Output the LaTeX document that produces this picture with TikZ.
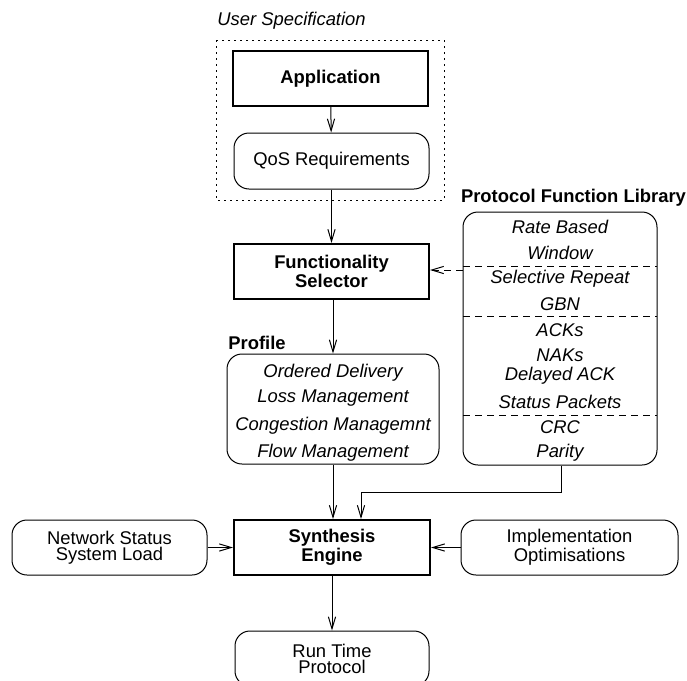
\documentclass[tikz,border=0pt]{standalone}
\usepackage{fontspec}
\setmainfont{Liberation Sans}
\usetikzlibrary{arrows.meta}

\tikzset{
  box/.style={draw, line width=1pt, minimum height=27.5pt, inner sep=0pt,
    align=center, font=\fontsize{9.2}{8}\selectfont\bfseries},
  rbox/.style={draw, line width=0.5pt, rounded corners=7.5pt, minimum height=27.5pt,
    inner sep=0pt, align=center, font=\fontsize{9.2}{8}\selectfont},
  item/.style={font=\fontsize{9.2}{10}\selectfont\itshape, inner sep=0pt},
  title/.style={font=\fontsize{9.2}{10}\selectfont\bfseries, inner sep=0pt},
  conn/.style={line width=0.5pt, -{Straight Barb[length=6pt,width=3.6pt,line width=0.5pt]}}
}

\begin{document}
\begin{tikzpicture}[x=0.5pt, y=-0.5pt]
  \clip (0,0) rectangle (687,681);
  % User specification
  \draw[line width=0.5pt, dash pattern=on 1pt off 2pt] (216,40) rectangle (444,200);
  \node[item, anchor=south west] (userspec) at (217,30) {User Specification};
  \node[box, minimum width=97.5pt] (app) at (330.5,78.5) {Application};
  \node[rbox, minimum width=97.5pt, minimum height=28pt] (qos) at (331.5,161) {QoS Requirements};
  % Selector
  \node[box, minimum width=97.5pt] (sel) at (331.5,271.5) {Functionality\\Selector};
  % Profile
  \node[rbox, minimum width=106pt, minimum height=55pt] (prof) at (333,409) {};
  \node[title, anchor=south west] (proftitle) at (228,350) {Profile};
  \foreach \t/\y [count=\i] in {Ordered Delivery/373, Loss Management/398,
      Congestion Managemnt/426, Flow Management/453}
    \node[item] (p\i) at (333,\y) {\t};
  % Protocol function library
  \node[rbox, minimum width=97pt, minimum height=126.5pt] (lib) at (560,338.5) {};
  \node[title, anchor=south] (libtitle) at (573.5,207) {Protocol Function Library};
  \foreach \t/\y [count=\i] in {Rate Based/227, Window/253, Selective Repeat/279, GBN/304,
      ACKs/330, NAKs/355, Delayed ACK/376, Status Packets/402, CRC/427, Parity/453}
    \node[item] (l\i) at (560,\y) {\t};
  \foreach \y in {266,316,415}
    \draw[line width=0.5pt, dash pattern=on 3.5pt off 2.5pt] (463,\y) -- (657,\y);
  % Engine row
  \node[box, minimum width=98pt] (syn) at (332,547.5) {Synthesis\\Engine};
  \node[rbox, minimum width=97.5pt] (net) at (109.5,547.5) {Network Status\\System Load};
  \node[rbox, minimum width=108.5pt] (impl) at (569.5,547.5) {Implementation\\Optimisations};
  \node[rbox, minimum width=97pt] (run) at (332,658.5) {Run Time\\Protocol};
  % Connectors
  \draw[conn] (app) -- (qos);
  \draw[conn] (qos.south -| sel.north) -- (sel.north);
  \draw[conn, dash pattern=on 3.5pt off 2.5pt] (lib.west |- 0,270) -- (sel.east |- 0,270);
  \draw[conn] (sel.south -| prof.north) -- (prof.north);
  \draw[conn] (prof.south -| 333,0) -- (syn.north -| 333,0);
  \coordinate (jl) at (561,492);
  \coordinate (jr) at (361,492);
  \draw[conn] (lib.south -| jl) -- (jl) -- (jr) -- (syn.north -| jr);
  \draw[conn] (net) -- (syn);
  \draw[conn] (impl) -- (syn);
  \draw[conn] (syn) -- (run);
\end{tikzpicture}
\end{document}
